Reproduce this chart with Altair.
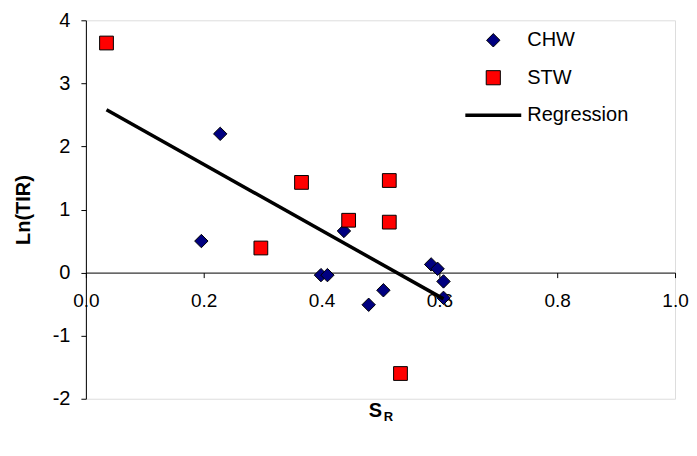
import altair as alt
import pandas as pd

# --- data ---
chw_x = [0.196, 0.228, 0.438, 0.399, 0.410, 0.480, 0.505, 0.586, 0.597, 0.607, 0.607]
chw_y = [0.50, 2.20, 0.66, -0.04, -0.04, -0.51, -0.28, 0.13, 0.06, -0.14, -0.40]
stw_x = [0.035, 0.297, 0.366, 0.446, 0.515, 0.515, 0.534]
stw_y = [3.64, 0.39, 1.43, 0.83, 1.46, 0.80, -1.60]

series = ["CHW", "STW", "Regression"]
colors = ["#000080", "#FF0000", "#000000"]
shapes = ["diamond", "square", "stroke"]
x_ticks = [0.0, 0.2, 0.4, 0.6, 0.8, 1.0]
y_ticks = [-2, -1, 0, 1, 2, 3, 4]

df = pd.concat([
    pd.DataFrame({"x": chw_x, "y": chw_y, "series": "CHW"}),
    pd.DataFrame({"x": stw_x, "y": stw_y, "series": "STW"}),
], ignore_index=True)

W, H = 590, 379
FONT = "Liberation Sans"

x_scale = alt.Scale(domain=[0, 1], nice=False, zero=False)
y_scale = alt.Scale(domain=[-2, 4], nice=False, zero=False)

points = alt.Chart(df).mark_point(filled=True, stroke="black", strokeWidth=1, opacity=1).encode(
    x=alt.X("x:Q", scale=x_scale, axis=alt.Axis(
        values=x_ticks, format=".1f", title=None, grid=False,
        offset=-(H * 2 / 6), tickSize=5, labelPadding=14, labelFlush=False,
        domainColor="black", tickColor="black", labelColor="black",
        labelFont=FONT, labelFontSize=19)),
    y=alt.Y("y:Q", scale=y_scale, axis=alt.Axis(
        values=y_ticks, labelExpr="'' + datum.value", title="Ln(TIR)", grid=False,
        tickSize=5, labelPadding=11,
        domainColor="black", tickColor="black", labelColor="black",
        labelFont=FONT, labelFontSize=20,
        titleFont=FONT, titleFontSize=20, titleFontWeight="bold",
        titleColor="black", titleX=-62, titleY=H / 2,
        titleAlign="center", titleBaseline="middle")),
    color=alt.Color("series:N", scale=alt.Scale(domain=series, range=colors), legend=None),
    shape=alt.Shape("series:N", scale=alt.Scale(domain=series, range=shapes), legend=None),
    size=alt.Size("series:N", scale=alt.Scale(domain=series, range=[180, 200, 200]), legend=None),
)

reg = alt.Chart(df).transform_regression("x", "y").mark_line(color="black", strokeWidth=3.5).encode(
    x=alt.X("x:Q", scale=x_scale),
    y=alt.Y("y:Q", scale=y_scale),
)

one = alt.Data(values=[{}])

# x axis title S with subscript R
s_txt = alt.Chart(one).mark_text(text="S", font=FONT, fontSize=20, fontWeight="bold",
                                 align="center", baseline="middle", color="black").encode(
    x=alt.value(290), y=alt.value(391))
r_txt = alt.Chart(one).mark_text(text="R", font=FONT, fontSize=13, fontWeight="bold",
                                 align="center", baseline="middle", color="black").encode(
    x=alt.value(303), y=alt.value(397))

# legend (Excel style: symbols centred on the line sample, labels to the right)
LEG_X, LEG_Y0, LEG_DY, LEG_LINE = 408, 20, 37.5, 56
legend_layers = []
for i, (name, col, shp) in enumerate(zip(series, colors, shapes)):
    yy = LEG_Y0 + i * LEG_DY
    if shp == "stroke":
        legend_layers.append(alt.Chart(one).mark_rule(color=col, strokeWidth=3.5).encode(
            x=alt.value(LEG_X - LEG_LINE / 2), x2=alt.value(LEG_X + LEG_LINE / 2), y=alt.value(yy)))
    else:
        legend_layers.append(alt.Chart(one).mark_point(
            shape=shp, filled=True, fill=col, stroke="black", strokeWidth=1, opacity=1,
            size=180 if shp == "diamond" else 200).encode(x=alt.value(LEG_X), y=alt.value(yy)))
    legend_layers.append(alt.Chart(one).mark_text(
        text=name, font=FONT, fontSize=20, align="left", baseline="middle", color="black").encode(
        x=alt.value(LEG_X + LEG_LINE / 2 + 6), y=alt.value(yy)))

chart = alt.layer(points, reg, s_txt, r_txt, *legend_layers).properties(
    width=W, height=H,
    autosize=alt.AutoSizeParams(type="none"),
    padding={"left": 78, "top": 12, "right": 14, "bottom": 50},
).configure_view(stroke=None).configure(background="white")

chart.save("out.html", embed_options={"renderer": "svg", "actions": False})
